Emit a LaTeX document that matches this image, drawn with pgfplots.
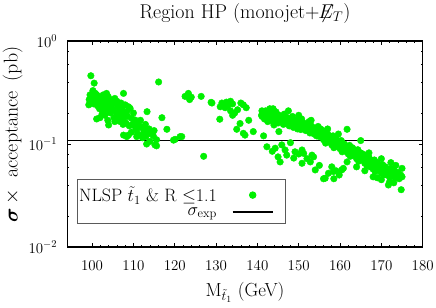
\RequirePackage{fix-cm}
\documentclass[border=0pt]{standalone}
\usepackage{amsmath,amssymb,bm}
\usepackage{pgfplots}
\pgfplotsset{compat=1.18}
\definecolor{ptgreen}{RGB}{0,240,0}
\begin{document}
\begin{tikzpicture}
\begin{axis}[
  scale only axis,
  width=355.4bp, height=206bp,
  xmin=94, xmax=180,
  ymode=log, ymin=0.01, ymax=1,
  xtick={100,110,...,180},
  minor x tick num=4,
  ytick={0.01,0.1,1},
  minor ytick={0.02,0.04,0.06,0.08,0.2,0.4,0.6,0.8},
  tick align=inside,
  major tick length=4bp,
  minor tick length=2bp,
  tick style={black, line width=0.6bp},
  axis line style={line width=1.1bp},
  tick label style={font=\fontsize{15}{18}\selectfont},
  xticklabel style={anchor=base, inner sep=0pt, yshift=-23bp},
  yticklabel style={anchor=east, inner sep=0pt, xshift=-10bp},
  every axis title shift=0pt,
  title={Region HP (monojet+$\not\!\!E_T$)},
  title style={font=\fontsize{20}{24}\selectfont, at={(axis description cs:0.5,1.110)}, anchor=base, inner sep=0pt},
  xlabel={M$_{\tilde{t}_1}$ (GeV)},
  xlabel style={font=\fontsize{19}{23}\selectfont, at={(axis description cs:0.5,-0.238)}, anchor=base, inner sep=0pt},
  ylabel={$\bm{\sigma}$\hspace{3.5bp}$\times$\hspace{12bp}acceptance\hspace{10bp}(pb)},
  ylabel style={font=\fontsize{20}{24}\selectfont, at={(axis description cs:-0.154,0.545)}, anchor=center, rotate=0, inner sep=0pt},
  legend plot pos=right,
  legend cell align=right,
  legend style={at={(axis description cs:0.0264,0.1117)}, anchor=south west,
    draw={rgb,255:red,90;green,90;blue,90}, line width=0.8bp,
    font=\fontsize{18}{21}\selectfont, inner xsep=1bp, inner ysep=6bp,
    row sep=2bp, column sep=14bp, nodes={inner sep=1bp}},
]
\addplot[only marks, mark=*, mark size=3.3bp, color=ptgreen, mark options={fill=ptgreen, draw=ptgreen},
  legend image code/.code={\path[draw=none,fill=none] (0bp,0bp) -- (52bp,0bp); \fill[ptgreen] (20bp,0bp) circle (3.3bp);}]
table {
x y
99.7 0.46
100.5 0.39
100.2 0.33
100.8 0.31
99.5 0.30
99.3 0.27
100.0 0.28
100.9 0.27
101.1 0.30
99.2 0.24
99.8 0.255
100.4 0.245
101.3 0.235
101.1 0.175
102.3 0.267
102.7 0.30
103.5 0.31
103.9 0.288
103.1 0.258
102.0 0.25
101.8 0.22
102.5 0.23
104.7 0.267
105.5 0.277
104.3 0.24
103.5 0.222
103.1 0.19
105.1 0.214
106.0 0.198
106.3 0.23
106.8 0.19
107.6 0.31
108.0 0.24
108.8 0.23
108.4 0.206
109.2 0.222
107.6 0.177
109.6 0.177
110.4 0.171
104.0 0.153
106.0 0.171
110.8 0.137
111.6 0.147
108.8 0.122
108.4 0.118
112.0 0.122
104.5 0.20
105.0 0.255
105.8 0.245
106.5 0.21
107.2 0.22
107.0 0.25
107.8 0.20
104.2 0.205
102.8 0.21
103.3 0.24
102.2 0.285
101.5 0.26
101.6 0.29
100.6 0.29
100.2 0.26
105.3 0.18
106.8 0.165
107.5 0.155
108.2 0.16
109.0 0.15
109.8 0.155
110.5 0.145
111.2 0.16
112.5 0.135
112.8 0.145
113.3 0.206
113.5 0.125
113.0 0.118
114.0 0.106
114.3 0.13
114.8 0.12
115.6 0.11
115.6 0.096
116.1 0.40
116.9 0.18
118.1 0.139
120.1 0.111
121.3 0.118
119.7 0.109
113.2 0.100
115.2 0.098
107.6 0.122
121.7 0.118
110.8 0.118
109.5 0.13
111.0 0.125
112.2 0.115
113.8 0.14
115.0 0.135
110.0 0.20
108.6 0.185
106.2 0.185
105.5 0.165
103.8 0.17
102.4 0.195
101.9 0.18
104.8 0.225
103.0 0.27
104.0 0.26
106.0 0.26
111.7 0.17
112.9 0.155
122.5 0.29
123.3 0.31
123.6 0.27
124.0 0.285
126.4 0.29
128.8 0.254
131.0 0.23
130.9 0.174
129.0 0.25
131.4 0.25
132.5 0.255
133.5 0.26
134.0 0.245
132.8 0.235
132.2 0.225
133.5 0.21
134.0 0.19
134.5 0.20
135.2 0.215
136.0 0.25
136.6 0.24
137.3 0.225
135.8 0.158
137.9 0.17
135.0 0.139
136.6 0.127
137.0 0.122
139.0 0.132
141.5 0.12
127.0 0.076
141.1 0.21
142.6 0.21
143.8 0.22
144.0 0.153
145.2 0.132
141.0 0.19
141.3 0.205
141.7 0.175
142.0 0.21
142.3 0.18
142.7 0.195
142.5 0.165
143.0 0.17
143.3 0.20
143.7 0.185
144.0 0.195
144.3 0.165
144.7 0.18
144.5 0.205
145.0 0.16
145.3 0.19
145.7 0.175
146.0 0.185
146.3 0.155
146.7 0.17
146.5 0.195
147.0 0.165
147.3 0.18
147.7 0.15
148.0 0.175
148.3 0.16
148.7 0.145
148.5 0.185
149.0 0.155
149.3 0.17
149.7 0.14
150.0 0.165
150.3 0.15
150.7 0.175
150.5 0.138
151.0 0.145
151.3 0.16
151.7 0.135
152.0 0.155
152.3 0.14
152.7 0.128
152.5 0.165
153.0 0.15
153.3 0.135
153.7 0.125
154.0 0.14
154.3 0.12
154.7 0.148
154.5 0.13
155.0 0.118
155.3 0.14
155.7 0.128
156.0 0.11
156.3 0.132
156.7 0.12
156.5 0.102
157.0 0.125
157.3 0.105
157.7 0.115
158.0 0.098
158.3 0.12
158.7 0.108
158.5 0.092
159.0 0.112
159.3 0.095
159.7 0.104
160.0 0.09
160.3 0.108
160.7 0.098
160.5 0.084
161.0 0.10
161.3 0.085
161.7 0.093
162.0 0.08
162.3 0.097
162.7 0.088
162.5 0.076
163.0 0.092
163.3 0.078
163.7 0.084
164.0 0.072
164.3 0.088
164.7 0.079
164.5 0.068
165.0 0.082
165.3 0.07
165.7 0.076
166.0 0.065
166.3 0.078
166.7 0.07
166.5 0.062
167.0 0.074
167.3 0.06
167.7 0.067
168.0 0.057
168.3 0.07
168.7 0.063
168.5 0.054
169.0 0.066
169.3 0.056
169.7 0.06
170.0 0.052
170.3 0.063
170.7 0.057
170.5 0.05
171.0 0.06
171.3 0.05
171.7 0.055
172.0 0.048
172.3 0.058
172.7 0.052
173.0 0.056
173.3 0.047
173.7 0.051
174.0 0.053
174.3 0.046
174.7 0.05
175.0 0.048
174.8 0.036
171.7 0.04
172.3 0.066
141.15 0.185
141.5 0.195
141.85 0.2
142.15 0.19
142.85 0.175
143.15 0.18
143.5 0.19
143.85 0.165
144.15 0.185
144.85 0.17
145.15 0.175
145.5 0.185
145.85 0.165
146.15 0.175
146.85 0.16
147.15 0.17
147.5 0.16
147.85 0.175
148.15 0.165
148.85 0.155
149.15 0.16
149.5 0.15
149.85 0.165
150.15 0.155
150.85 0.145
151.15 0.15
151.5 0.155
151.85 0.14
152.15 0.145
152.85 0.135
153.15 0.14
153.5 0.145
153.85 0.13
154.15 0.13
154.85 0.125
155.15 0.13
155.5 0.12
155.85 0.135
156.15 0.12
156.85 0.112
157.15 0.112
157.5 0.12
157.85 0.105
158.15 0.108
158.85 0.1
159.15 0.102
159.5 0.108
159.85 0.096
160.15 0.098
160.85 0.09
161.15 0.092
161.5 0.096
161.85 0.086
162.15 0.088
162.85 0.082
163.15 0.084
163.5 0.088
163.85 0.078
164.15 0.08
164.85 0.074
165.15 0.076
165.5 0.08
165.85 0.071
166.15 0.071
166.85 0.066
167.15 0.067
167.5 0.07
167.85 0.063
168.15 0.063
168.85 0.059
169.15 0.06
169.5 0.062
169.85 0.055
170.15 0.057
170.85 0.053
171.15 0.055
171.5 0.057
171.85 0.051
172.15 0.053
172.85 0.049
173.15 0.051
173.5 0.053
174.15 0.05
174.5 0.048
161.7 0.139
159.6 0.125
165.0 0.108
157.0 0.14
147.5 0.21
150.0 0.19
143.0 0.22
153.0 0.17
167.0 0.082
170.0 0.072
173.5 0.062
175.0 0.058
168.0 0.048
170.0 0.045
172.0 0.043
173.0 0.042
166.0 0.055
164.0 0.06
169.0 0.047
142.3 0.094
143.6 0.085
144.3 0.091
145.0 0.075
145.5 0.067
145.9 0.098
146.7 0.0875
147.1 0.078
148.0 0.103
148.8 0.073
149.1 0.084
150.0 0.08
150.8 0.0875
151.2 0.081
150.8 0.065
152.0 0.072
152.8 0.067
153.2 0.078
153.6 0.075
154.0 0.056
155.0 0.062
156.4 0.0465
157.2 0.052
158.0 0.06
158.5 0.046
159.0 0.055
159.8 0.05
160.8 0.058
160.4 0.056
161.7 0.067
158.4 0.054
156.0 0.046
};
\addlegendentry{NLSP $\tilde{t}_1$ \& R $\leq$1.1}
\addplot[black, line width=1.6bp,
  legend image code/.code={\path[draw=none,fill=none] (0bp,0bp) -- (52bp,0bp); \draw[black, line width=1.6bp] (0bp,0bp) -- (40bp,0bp);}]
coordinates {(94,0.108) (180,0.108)};
\addlegendentry{$\sigma_{\rm exp}$}
\end{axis}
\pgfresetboundingbox
\path[use as bounding box] (current axis.south west) ++(-67.3bp,-61bp) rectangle ++(436bp,308bp);
\end{tikzpicture}
\end{document}
